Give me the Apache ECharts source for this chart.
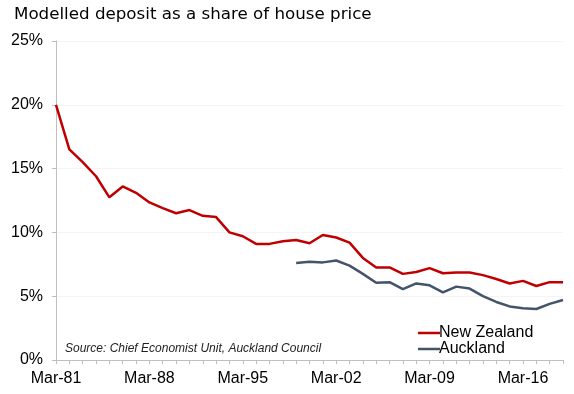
<!DOCTYPE html>
<html>
<head>
<meta charset="utf-8">
<script src="https://cdn.jsdelivr.net/npm/echarts@6/dist/echarts.min.js"></script>
<style>
html,body{margin:0;padding:0;background:#fff;}
#chart{width:574px;height:394px;}
</style>
</head>
<body>
<div id="chart"></div>
<script>
var categories = ['Mar-81','Mar-82','Mar-83','Mar-84','Mar-85','Mar-86','Mar-87','Mar-88','Mar-89','Mar-90',
  'Mar-91','Mar-92','Mar-93','Mar-94','Mar-95','Mar-96','Mar-97','Mar-98','Mar-99','Mar-00',
  'Mar-01','Mar-02','Mar-03','Mar-04','Mar-05','Mar-06','Mar-07','Mar-08','Mar-09','Mar-10',
  'Mar-11','Mar-12','Mar-13','Mar-14','Mar-15','Mar-16','Mar-17','Mar-18','Mar-19'];

var newZealand = [20.0, 16.5, 15.5, 14.4, 12.75, 13.6, 13.1, 12.35, 11.9, 11.5,
  11.75, 11.3, 11.2, 10.0, 9.7, 9.1, 9.1, 9.3, 9.4, 9.15,
  9.8, 9.6, 9.2, 8.0, 7.25, 7.25, 6.75, 6.9, 7.2, 6.8,
  6.85, 6.85, 6.65, 6.35, 6.0, 6.2, 5.8, 6.1, 6.1];

var auckland = [null, null, null, null, null, null, null, null, null, null,
  null, null, null, null, null, null, null, null, 7.6, 7.7,
  7.65, 7.8, 7.4, 6.75, 6.05, 6.1, 5.55, 6.0, 5.85, 5.3,
  5.75, 5.6, 5.0, 4.55, 4.2, 4.05, 4.0, 4.4, 4.7];

var yTicks = [0, 5, 10, 15, 20, 25];

var chart = echarts.init(document.getElementById('chart'));
chart.setOption({
  animation: false,
  backgroundColor: '#ffffff',
  title: {
    text: 'Modelled deposit as a share of house price',
    left: 14, top: 6, padding: 0,
    textStyle: { fontFamily: 'DejaVu Sans', fontSize: 16.7, fontWeight: 'normal', color: '#000' }
  },
  graphic: [{
    type: 'text', left: 65, top: 343,
    style: { text: 'Source: Chief Economist Unit, Auckland Council', fontFamily: 'Liberation Sans',
      fontStyle: 'italic', fontSize: 12, fill: '#222' }
  }],
  legend: {
    orient: 'vertical', left: 413, top: 320, itemWidth: 22, itemHeight: 14, itemGap: 0,
    icon: 'path://M0,6 L22,6 L22,8.5 L0,8.5 Z',
    textStyle: { fontFamily: 'Liberation Sans', fontSize: 16, color: '#000', padding: [0,0,0,-6], lineHeight: 16 },
    data: ['New Zealand', 'Auckland']
  },
  grid: { left: 56, right: 11, top: 41, bottom: 34, containLabel: false },
  xAxis: {
    type: 'category', data: categories, boundaryGap: false,
    axisLine: { lineStyle: { color: '#bfbfbf', width: 1 } },
    axisTick: { show: true, interval: 0, length: 4, lineStyle: { color: '#bfbfbf' } },
    axisLabel: { interval: 6, margin: 11, fontFamily: 'Liberation Sans', fontSize: 16, color: '#000' },
    splitLine: { show: false }
  },
  yAxis: {
    type: 'value', min: yTicks[0], max: yTicks[yTicks.length - 1], interval: 5,
    axisLine: { show: true, lineStyle: { color: '#bfbfbf', width: 1 } },
    axisTick: { show: true, length: 4, lineStyle: { color: '#bfbfbf' } },
    axisLabel: { formatter: '{value}%', margin: 13, fontFamily: 'Liberation Sans', fontSize: 16, color: '#000' },
    splitLine: { show: true, lineStyle: { color: '#f4f4f4', width: 1 } }
  },
  series: [
    { name: 'New Zealand', type: 'line', data: newZealand, showSymbol: false, symbol: 'none',
      itemStyle: { color: '#c00000' }, lineStyle: { color: '#c00000', width: 2.5 } },
    { name: 'Auckland', type: 'line', data: auckland, showSymbol: false, symbol: 'none',
      itemStyle: { color: '#44546a' }, lineStyle: { color: '#44546a', width: 2.5 } }
  ]
});
</script>
</body>
</html>
